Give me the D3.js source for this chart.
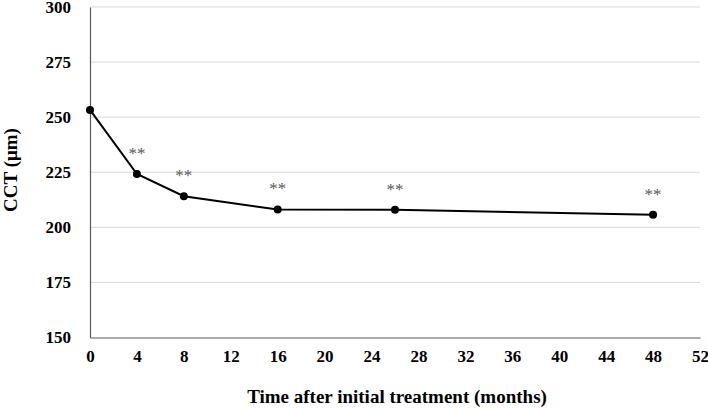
<!DOCTYPE html>
<html>
<head>
<meta charset="utf-8">
<script src="https://cdn.jsdelivr.net/npm/d3@7"></script>
<style>
  body { margin: 0; background: #fff; }
  text { font-family: "Liberation Serif", "Times New Roman", serif; }
</style>
</head>
<body>
<svg id="chart" width="708" height="409"></svg>
<script>
var months = [0, 4, 8, 16, 26, 48];
var cct = [253.3, 224.2, 214.1, 208.1, 208.0, 205.7];
var marks = ["", "**", "**", "**", "**", "**"];
var xTicks = [0, 4, 8, 12, 16, 20, 24, 28, 32, 36, 40, 44, 48, 52];
var yTicks = [150, 175, 200, 225, 250, 275, 300];

var svg = d3.select('#chart');
var padding = {l: 90, r: 8, t: 7, b: 72};
var width = +svg.attr('width'), height = +svg.attr('height');

var x = d3.scaleLinear().domain([0, 52]).range([padding.l, width - padding.r]);
var y = d3.scaleLinear().domain([150, 300]).range([height - padding.b + 0.5, padding.t]);

// gridlines
svg.append('g').selectAll('line')
  .data(yTicks.slice(1))
  .enter().append('line')
  .attr('x1', x(0)).attr('x2', x(52))
  .attr('y1', function(d){ return y(d); }).attr('y2', function(d){ return y(d); })
  .style('stroke', '#d9d9d9').style('stroke-width', 1);

// axes
var xAxis = svg.append('g')
  .attr('transform', 'translate(0,' + y(150) + ')')
  .call(d3.axisBottom(x).tickValues(xTicks).tickSize(0).tickPadding(12));
var yAxis = svg.append('g')
  .attr('transform', 'translate(' + x(0) + ',0)')
  .call(d3.axisLeft(y).tickValues(yTicks).tickSize(0).tickPadding(19));

[xAxis, yAxis].forEach(function(a){
  a.select('.domain').style('stroke', '#595959').style('stroke-width', 1.2);
  a.selectAll('text').style('font-size', '17px').style('font-weight', 'bold')
    .style('font-family', '"Liberation Serif", serif').style('fill', '#000');
});

// line + points
var pts = months.map(function(m, i){ return {m: m, v: cct[i], s: marks[i]}; });
svg.append('path')
  .datum(pts)
  .attr('d', d3.line().x(function(d){ return x(d.m); }).y(function(d){ return y(d.v); }))
  .style('fill', 'none').style('stroke', '#000').style('stroke-width', 2);

svg.selectAll('circle.pt')
  .data(pts).enter().append('circle')
  .attr('class', 'pt')
  .attr('cx', function(d){ return x(d.m); })
  .attr('cy', function(d){ return y(d.v); })
  .attr('r', 4)
  .style('fill', '#000');

// significance stars
svg.selectAll('text.star')
  .data(pts.filter(function(d){ return d.s; })).enter().append('text')
  .attr('class', 'star')
  .attr('x', function(d){ return x(d.m); })
  .attr('y', function(d){ return y(d.v) - 15; })
  .attr('text-anchor', 'middle')
  .style('font-size', '17px')
  .style('fill', '#595959')
  .text(function(d){ return d.s; });

// axis titles
svg.append('text')
  .attr('x', 397).attr('y', 403)
  .attr('text-anchor', 'middle')
  .style('font-size', '19px').style('font-weight', 'bold')
  .text('Time after initial treatment (months)');

svg.append('text')
  .attr('transform', 'translate(17,170) rotate(-90)')
  .attr('text-anchor', 'middle')
  .style('font-size', '19px').style('font-weight', 'bold')
  .text('CCT (μm)');
</script>
</body>
</html>
